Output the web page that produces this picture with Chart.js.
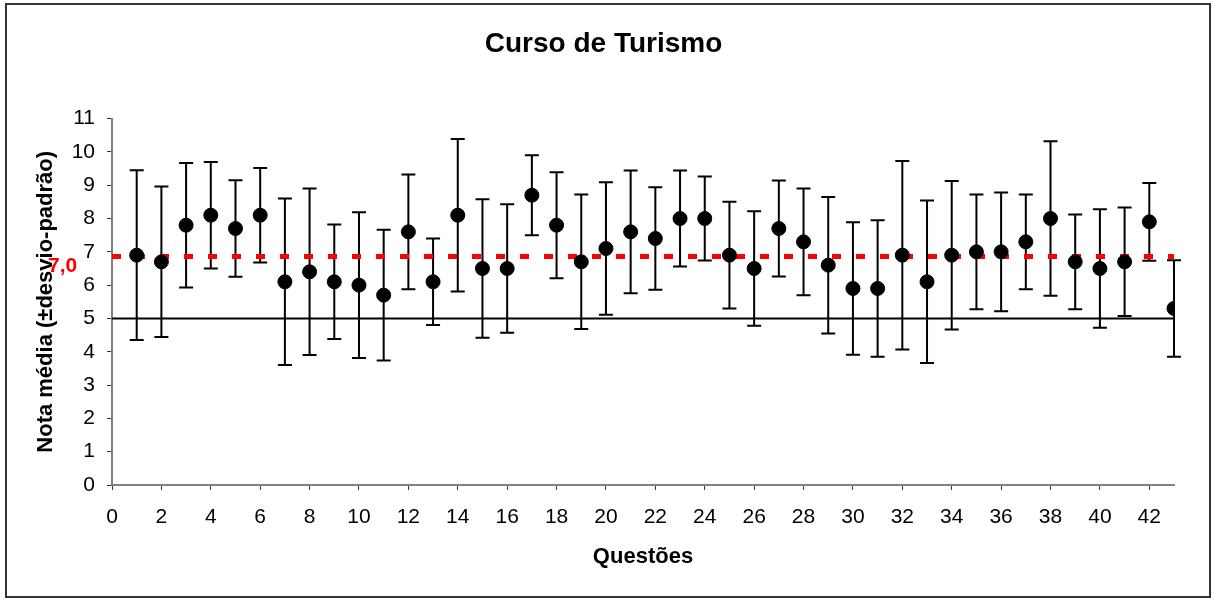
<!DOCTYPE html>
<html>
<head>
<meta charset="utf-8">
<script src="https://cdn.jsdelivr.net/npm/chart.js@4/dist/chart.umd.min.js"></script>
<style>
  html, body { margin: 0; padding: 0; background: #fff; }
  #wrap { width: 1214px; height: 601px; position: relative; }
</style>
</head>
<body>
<div id="wrap"><canvas id="grafico"></canvas></div>
<script>
// questões 1..43
const questoes = [1, 2, 3, 4, 5, 6, 7, 8, 9, 10, 11, 12, 13, 14, 15, 16, 17, 18, 19, 20, 21,
                  22, 23, 24, 25, 26, 27, 28, 29, 30, 31, 32, 33, 34, 35, 36, 37, 38, 39, 40, 41, 42, 43];
// nota média por questão
const medias = [6.9, 6.7, 7.8, 8.1, 7.7, 8.1, 6.1, 6.4, 6.1, 6.0, 5.7, 7.6, 6.1, 8.1, 6.5, 6.5, 8.7, 7.8, 6.7, 7.1, 7.6,
                7.4, 8.0, 8.0, 6.9, 6.5, 7.7, 7.3, 6.6, 5.9, 5.9, 6.9, 6.1, 6.9, 7.0, 7.0, 7.3, 8.0, 6.7, 6.5, 6.7, 7.9, 5.3];
// desvio-padrão por questão
const desvios = [2.55, 2.26, 1.87, 1.60, 1.45, 1.42, 2.50, 2.50, 1.72, 2.19, 1.96, 1.72, 1.30, 2.29, 2.08, 1.93, 1.20, 1.59, 2.02, 1.99, 1.84,
                 1.54, 1.44, 1.26, 1.60, 1.72, 1.44, 1.60, 2.05, 1.99, 2.05, 2.83, 2.44, 2.23, 1.72, 1.78, 1.42, 2.32, 1.42, 1.78, 1.63, 1.17, 1.45];
// linhas de referência
const mediaGeral = 6.86;
const mediaGeralTexto = '7,0';
const notaMinima = 5;
const xLimites = [0, 43];

const fonte = '"Liberation Sans", Arial, sans-serif';

// barras de erro (±desvio)
const barrasErro = {
    id: 'barrasErro',
    beforeDatasetsDraw(chart) {
        const ctx = chart.ctx;
        const x = chart.scales.x, y = chart.scales.y;
        ctx.save();
        ctx.strokeStyle = '#000';
        ctx.lineWidth = 2;
        questoes.forEach((q, i) => {
            const px = x.getPixelForValue(q);
            const yTop = y.getPixelForValue(medias[i] + desvios[i]);
            const yBot = y.getPixelForValue(medias[i] - desvios[i]);
            ctx.beginPath();
            ctx.moveTo(px, yTop); ctx.lineTo(px, yBot);
            ctx.moveTo(px - 7, yTop); ctx.lineTo(px + 7, yTop);
            ctx.moveTo(px - 7, yBot); ctx.lineTo(px + 7, yBot);
            ctx.stroke();
        });
        ctx.restore();
    },
    afterDraw(chart) {
        const ctx = chart.ctx;
        const y = chart.scales.y;
        ctx.save();
        // rótulo da média geral
        ctx.fillStyle = '#ff0000';
        ctx.font = 'bold 21px ' + fonte;
        ctx.textAlign = 'left';
        ctx.textBaseline = 'middle';
        ctx.fillText(mediaGeralTexto, 48, y.getPixelForValue(mediaGeral) + 10);
        // moldura
        ctx.strokeStyle = '#333';
        ctx.lineWidth = 2;
        ctx.strokeRect(6, 4, 1204, 593);
        ctx.restore();
    }
};

new Chart(document.getElementById('grafico'), {
    type: 'scatter',
    data: {
        datasets: [
            {
                label: 'Nota média',
                data: questoes.map((q, i) => ({x: q, y: medias[i]})),
                backgroundColor: '#000',
                borderColor: '#000',
                pointRadius: 7,
                pointHoverRadius: 7,
                order: 0
            },
            {
                type: 'line',
                label: 'Média geral',
                data: xLimites.map(v => ({x: v, y: mediaGeral})),
                borderColor: '#ff0000',
                borderWidth: 5,
                borderDash: [9, 15],
                pointRadius: 0,
                fill: false,
                order: 1
            },
            {
                type: 'line',
                label: 'Nota mínima',
                data: xLimites.map(v => ({x: v, y: notaMinima})),
                borderColor: '#000',
                borderWidth: 2,
                pointRadius: 0,
                fill: false,
                order: 2
            }
        ]
    },
    options: {
        responsive: true,
        maintainAspectRatio: false,
        animation: false,
        layout: { padding: { left: 33, right: 40, top: 0, bottom: 10 } },
        plugins: {
            legend: { display: false },
            tooltip: { enabled: false },
            title: {
                display: true,
                text: 'Curso de Turismo',
                color: '#000',
                font: { family: fonte, size: 28, weight: 'bold' },
                padding: { top: 27, bottom: 58 }
            }
        },
        scales: {
            x: {
                type: 'linear',
                min: xLimites[0],
                max: xLimites[1],
                afterFit(scale) { scale.height = 106; },
                border: { color: '#808080', width: 2 },
                grid: { drawOnChartArea: false, drawTicks: true, tickLength: 5, color: '#333' },
                ticks: {
                    stepSize: 2,
                    includeBounds: false,
                    color: '#000',
                    padding: 15,
                    maxRotation: 0,
                    font: { family: fonte, size: 21 }
                },
                title: {
                    display: true,
                    text: 'Questões',
                    color: '#000',
                    font: { family: fonte, size: 22, weight: 'bold' },
                    padding: { top: 0, bottom: 21 }
                }
            },
            y: {
                min: 0,
                max: 11,
                afterFit(scale) { scale.width = 79; },
                border: { color: '#808080', width: 2 },
                grid: { drawOnChartArea: false, drawTicks: true, tickLength: 5, color: '#333' },
                ticks: {
                    stepSize: 1,
                    color: '#000',
                    padding: 12,
                    font: { family: fonte, size: 21 }
                },
                title: {
                    display: true,
                    text: 'Nota média (±desvio-padrão)',
                    color: '#000',
                    font: { family: fonte, size: 22, weight: 'bold' },
                    padding: { top: 0, bottom: 0 }
                }
            }
        }
    },
    plugins: [barrasErro]
});
</script>
</body>
</html>
